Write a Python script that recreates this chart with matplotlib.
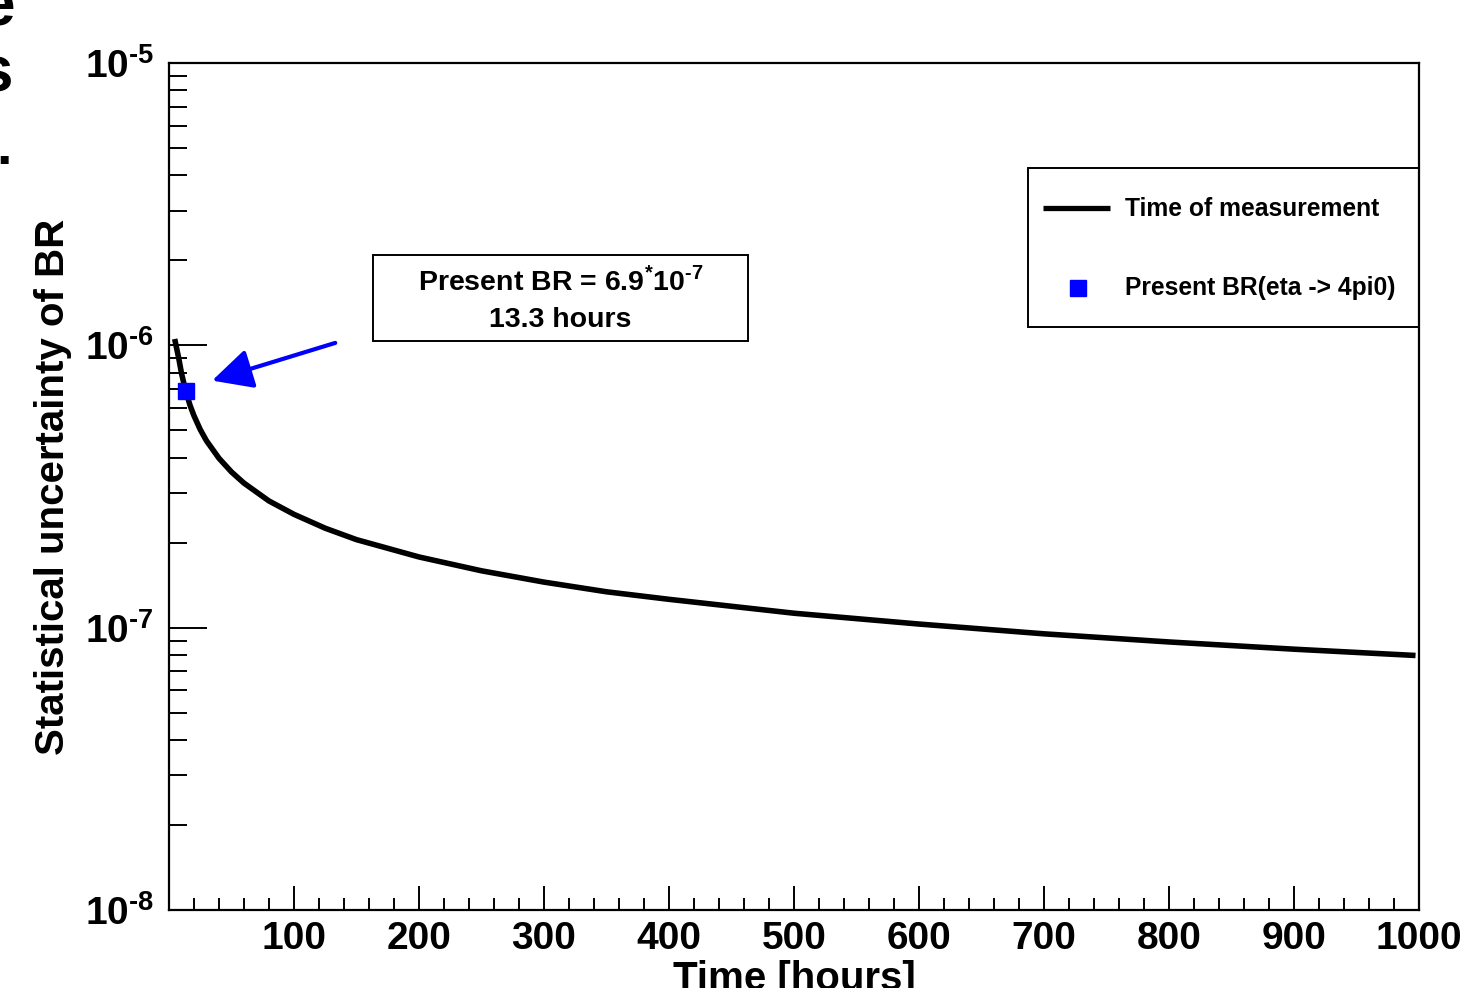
import matplotlib

matplotlib.use("Agg")
import matplotlib.pyplot as plt
from matplotlib.patches import Rectangle
from matplotlib.ticker import FixedLocator, LogLocator, NullFormatter

plt.rcParams["font.family"] = ["Liberation Sans", "DejaVu Sans"]
plt.rcParams["font.weight"] = "bold"
plt.rcParams["mathtext.fontset"] = "custom"
plt.rcParams["mathtext.rm"] = "Liberation Sans:bold"
plt.rcParams["mathtext.bf"] = "Liberation Sans:bold"

hours = [5, 8, 10, 13.3, 17, 20, 25, 30, 40, 50, 60, 80, 100, 125, 150,
         200, 250, 300, 350, 400, 500, 600, 700, 800, 900, 995]
sigma = [1.03e-6, 8.9e-7, 7.96e-7, 6.9e-7, 6.1e-7, 5.63e-7, 5.03e-7, 4.59e-7,
         3.98e-7, 3.56e-7, 3.25e-7, 2.81e-7, 2.52e-7, 2.25e-7, 2.05e-7,
         1.78e-7, 1.59e-7, 1.45e-7, 1.34e-7, 1.26e-7, 1.125e-7, 1.03e-7,
         9.51e-8, 8.9e-8, 8.39e-8, 7.98e-8]

# present measurement
present_hours = [13.3]
present_br = [6.9e-7]

x_major = [100, 200, 300, 400, 500, 600, 700, 800, 900, 1000]
y_major = [1e-8, 1e-7, 1e-6, 1e-5]
y_labels = [r"10$^{\text{-8}}$", r"10$^{\text{-7}}$", r"10$^{\text{-6}}$", r"10$^{\text{-5}}$"]

fig = plt.figure(figsize=(14.63, 9.88), dpi=100)
ax = fig.add_axes([169 / 1463, 1 - 910 / 988, 1250 / 1463, 847 / 988])

ax.plot(hours, sigma, c="black", lw=4.0, solid_joinstyle="miter", zorder=3)
ax.plot(present_hours, present_br, ls="", marker="s", ms=11.5, c="blue", mec="blue", zorder=4)

ax.set_yscale("log")
ax.set_xlim(0, 1000)
ax.set_ylim(1e-8, 1e-5)

ax.xaxis.set_major_locator(FixedLocator(x_major))
ax.xaxis.set_minor_locator(FixedLocator(list(range(20, 1000, 20))))
ax.set_xticklabels([str(v) for v in x_major])
ax.yaxis.set_major_locator(FixedLocator(y_major))
ax.yaxis.set_minor_locator(LogLocator(base=10, subs=range(2, 10)))
ax.yaxis.set_minor_formatter(NullFormatter())
ax.set_yticklabels(y_labels)

ax.tick_params(which="both", direction="in", top=False, right=False, width=1.4)
ax.tick_params(axis="x", which="major", length=17, labelsize=28, pad=8)
ax.tick_params(axis="x", which="minor", length=8.5)
ax.tick_params(axis="y", which="major", length=27, labelsize=28, pad=11)
ax.tick_params(axis="y", which="minor", length=13)
for s in ax.spines.values():
    s.set_linewidth(1.6)

ax.set_xlabel("Time [hours]", fontsize=29, fontweight="bold", labelpad=2)
ax.set_ylabel("Statistical uncertainty of BR", fontsize=29, fontweight="bold", labelpad=9)

# text box with present value
ax.add_patch(Rectangle((0.1632, 0.6718), 0.300, 0.1015, transform=ax.transAxes,
                       fill=False, ec="black", lw=1.4, clip_on=False))
ax.text(0.3132, 0.7420, r"Present BR = 6.9$^{*}$10$^{\text{-7}}$", transform=ax.transAxes,
        ha="center", va="center", fontsize=20.5, fontweight="bold")
ax.text(0.3132, 0.6966, "13.3 hours", transform=ax.transAxes,
        ha="center", va="center", fontsize=20.5, fontweight="bold")

ax.annotate("", xy=(34.5, 7.5e-7), xytext=(133, 1.02e-6),
            arrowprops=dict(arrowstyle="-|>,head_length=0.7,head_width=0.35",
                            color="blue", lw=3, mutation_scale=35, shrinkA=0, shrinkB=0))

# legend box
ax.add_patch(Rectangle((0.687, 0.688), 0.313, 0.188, transform=ax.transAxes,
                       fill=False, ec="black", lw=1.4, clip_on=False))
ax.plot([0.699, 0.753], [0.8288, 0.8288], transform=ax.transAxes, c="black", lw=3.8,
        solid_capstyle="butt", clip_on=False)
ax.plot([0.7272], [0.7344], transform=ax.transAxes, ls="", marker="s", ms=11,
        c="blue", clip_on=False)
ax.text(0.7648, 0.8275, "Time of measurement", transform=ax.transAxes,
        ha="left", va="center", fontsize=17.7, fontweight="bold")
ax.text(0.7648, 0.7344, "Present BR(eta -> 4pi0)", transform=ax.transAxes,
        ha="left", va="center", fontsize=17.7, fontweight="bold")

# clipped leftovers from the slide
fig.text(15 / 1463, 1 - 8 / 988, "e", ha="right", va="center", fontsize=46, fontweight="bold")
fig.text(13 / 1463, 1 - 75 / 988, "s", ha="right", va="center", fontsize=46, fontweight="bold")
fig.text(12 / 1463, 1 - 150 / 988, ".", ha="right", va="center", fontsize=40, fontweight="bold")

fig.savefig("out.png", dpi=100)
